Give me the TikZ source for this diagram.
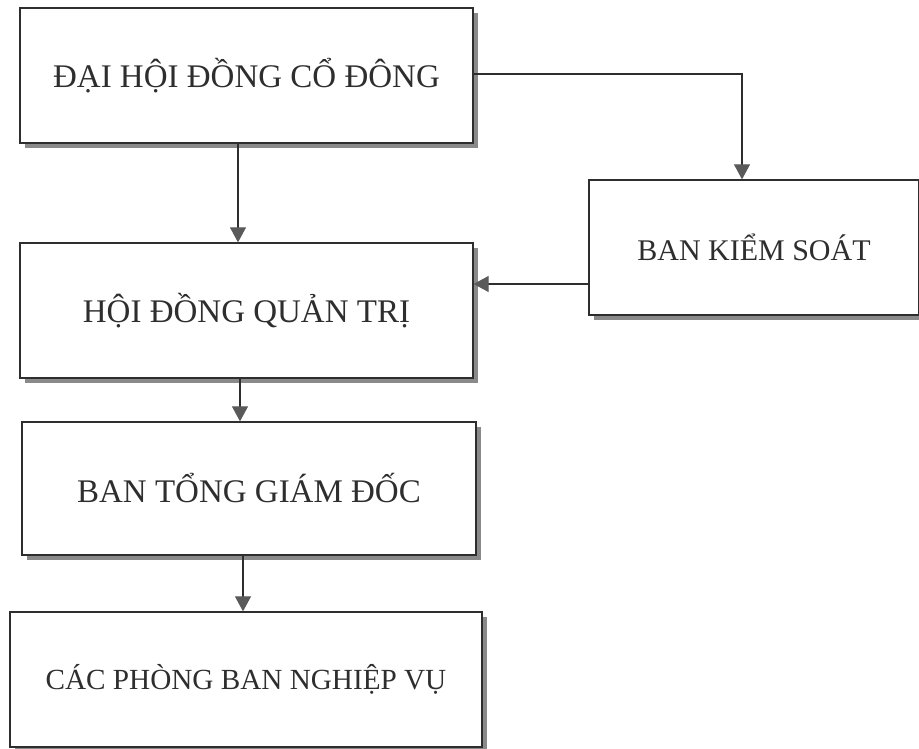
\documentclass[tikz,border=0pt]{standalone}
\usepackage{fontspec}
\setmainfont{Liberation Serif}
\usetikzlibrary{arrows.meta,positioning}
\definecolor{ink}{HTML}{2E2E2E}
\definecolor{shade}{HTML}{8A8A8A}
\definecolor{tipgray}{HTML}{5A5A5A}
\tikzset{
  orgbox/.style={draw=ink, line width=1.3pt, fill=white, text=ink,
    minimum width=#1, minimum height=135pt, inner sep=0pt,
    font=\fontsize{33}{38}\selectfont},
  smalltext/.style={font=\fontsize{#1}{#1}\selectfont},
  shadowbox/.style={fill=shade, draw=none},
  link/.style={draw=ink, line width=1.1pt,
    -{Triangle[length=15pt,width=16pt,fill=tipgray,color=tipgray]}}
}
\begin{document}
\begin{tikzpicture}[x=1pt,y=-1pt]
\useasboundingbox (0,0) rectangle (919,749);
% shadows
\fill[shadowbox] (25,13) rectangle (478,148);
\fill[shadowbox] (25,248) rectangle (478,383);
\fill[shadowbox] (27,427) rectangle (481,560);
\fill[shadowbox] (15,617) rectangle (487,752);
\fill[shadowbox] (594,185) rectangle (924,320);
% boxes
\node[orgbox=453pt, minimum height=135pt] (dh) at (246.5,75.5) {ĐẠI HỘI ĐỒNG CỔ ĐÔNG};
\node[orgbox=453pt, minimum height=135pt] (hd) at (246.5,310.5) {HỘI ĐỒNG QUẢN TRỊ};
\node[orgbox=454pt, minimum height=133pt] (tg) at (249,488.5) {BAN TỔNG GIÁM ĐỐC};
\node[orgbox=472pt, minimum height=135pt, smalltext=29.2] (pb) at (246,679.5) {CÁC PHÒNG BAN NGHIỆP VỤ};
\node[orgbox=330pt, minimum height=135pt, smalltext=30] (ks) at (754,247.5) {BAN KIỂM SOÁT};
% connectors
\draw[link] (dh.south -| 238,0) -- (hd.north -| 238,0);
\draw[link] (dh.east |- 0,74) -- (742,74) -- (ks.north -| 742,0);
\draw[link] (ks.west |- 0,284) -- (hd.east |- 0,284);
\draw[link] (hd.south -| 240,0) -- (tg.north -| 240,0);
\draw[link] (tg.south -| 243,0) -- (pb.north -| 243,0);
\end{tikzpicture}
\end{document}
